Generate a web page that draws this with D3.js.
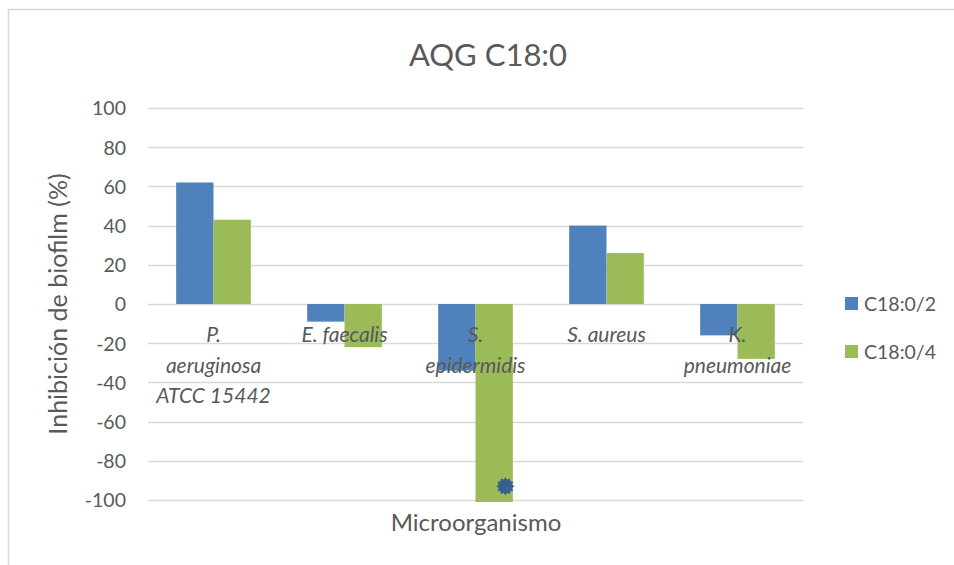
<!DOCTYPE html>
<html>
<head>
<meta charset="utf-8">
<script src="https://cdn.jsdelivr.net/npm/d3@7"></script>
<style>
  html, body { margin: 0; padding: 0; background: #fff; }
  svg { display: block; }
  text { font-family: Lato, "Open Sans", sans-serif; fill: #595959; }
</style>
</head>
<body>
<svg id="chart" width="954" height="565"></svg>
<script>
const categories = [["P.", "aeruginosa", "ATCC 15442"], ["E. faecalis"], ["S.", "epidermidis"], ["S. aureus"], ["K.", "pneumoniae"]];
const seriesNames = ["C18:0/2", "C18:0/4"];
const seriesC2 = [62, -9, -34, 40, -16];
const seriesC4 = [43, -22, -101, 26, -28];
const yTicks = [100, 80, 60, 40, 20, 0, -20, -40, -60, -80, -100];
const markerCategory = 2, markerSeries = 1, markerValue = -93;
const colors = ["#4f81bd", "#9bbb59"];

const svg = d3.select("#chart");
const W = 954, H = 565;
const plot = {left: 148, right: 803, top: 108, bottom: 500};

// border
svg.append("path").attr("d", `M8.5,${H} V9.5 H${W}`).attr("fill", "none")
  .attr("stroke", "#d9d9d9").attr("stroke-width", 1.5);

const y = d3.scaleLinear().domain([-100, 100]).range([plot.bottom, plot.top]);
const x0 = d3.scaleBand().domain(d3.range(categories.length)).range([plot.left, plot.right]).paddingInner(0.43).paddingOuter(0.215);
const x1 = d3.scaleBand().domain([0, 1]).range([0, x0.bandwidth()]);

// gridlines
svg.append("g").selectAll("line").data(yTicks).join("line")
  .attr("x1", plot.left).attr("x2", plot.right)
  .attr("y1", d => Math.round(y(d)) + 0.5).attr("y2", d => Math.round(y(d)) + 0.5)
  .attr("stroke", "#d9d9d9").attr("stroke-width", 1.5);

// y axis labels
const yAxis = d3.axisLeft(y).tickValues(yTicks).tickSize(0).tickPadding(0).tickFormat(d => String(d));
const ga = svg.append("g").attr("transform", `translate(126,0)`).call(yAxis);
ga.select(".domain").remove();
ga.selectAll("text").style("font-size", "19.5px").style("font-family", "Lato, 'Open Sans', sans-serif").attr("fill", "#595959").attr("dy", "0.35em");

// bars
const data = categories.map((c, i) => [seriesC2[i], seriesC4[i]]);
const groups = svg.append("g").selectAll("g").data(data).join("g")
  .attr("transform", (d, i) => `translate(${x0(i)},0)`);
groups.selectAll("rect").data(d => d).join("rect")
  .attr("x", (d, j) => x1(j)).attr("width", x1.bandwidth())
  .attr("y", d => y(Math.max(0, d))).attr("height", d => Math.abs(y(d) - y(0)))
  .attr("fill", (d, j) => colors[j]);

// category labels
const cl = svg.append("g").selectAll("text").data(categories).join("text")
  .attr("text-anchor", "middle").style("font-size", "21px").style("font-style", "italic");
cl.each(function(lines, i) {
  const t = d3.select(this);
  lines.forEach((ln, k) => {
    t.append("tspan").attr("x", x0(i) + x0.bandwidth() / 2).attr("y", 342 + k * 30.5).text(ln);
  });
});

// star marker
const star = d3.symbol().type({
  draw(ctx, size) {
    const n = 12, R = 9, r = 7;
    for (let k = 0; k < 2 * n; k++) {
      const a = k * Math.PI / n - Math.PI / 2;
      const rr = k % 2 === 0 ? R : r;
      if (k === 0) ctx.moveTo(rr * Math.cos(a), rr * Math.sin(a)); else ctx.lineTo(rr * Math.cos(a), rr * Math.sin(a));
    }
    ctx.closePath();
  }
});
svg.append("path").attr("d", star())
  .attr("transform", `translate(${x0(markerCategory) + x1(markerSeries) + x1.bandwidth() * 0.8},${y(markerValue)})`)
  .attr("fill", "#3a5f92");

// title
svg.append("text").attr("x", 488).attr("y", 66).attr("text-anchor", "middle")
  .style("font-size", "31px").text("AQG C18:0");

// axis titles
svg.append("text").attr("transform", `translate(67,${(plot.top + plot.bottom) / 2}) rotate(-90)`)
  .attr("text-anchor", "middle").style("font-size", "25px").text("Inhibición de biofilm (%)");
svg.append("text").attr("x", 476).attr("y", 531).attr("text-anchor", "middle")
  .style("font-size", "24px").text("Microorganismo");

// legend
const lg = svg.append("g").selectAll("g").data(seriesNames).join("g")
  .attr("transform", (d, i) => `translate(845,${297 + i * 48})`);
lg.append("rect").attr("width", 13).attr("height", 13).attr("fill", (d, i) => colors[i]);
lg.append("text").attr("x", 19).attr("y", 7).attr("dy", "0.35em").style("font-size", "19.5px").text(d => d);
</script>
</body>
</html>
